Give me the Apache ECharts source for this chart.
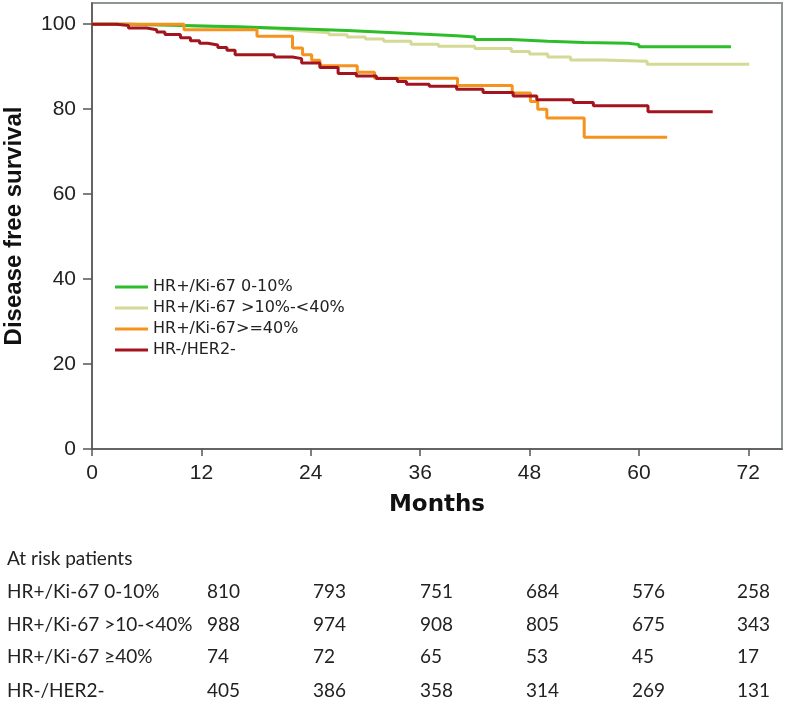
<!DOCTYPE html>
<html>
<head>
<meta charset="utf-8">
<script src="https://cdn.jsdelivr.net/npm/echarts@6/dist/echarts.min.js"></script>
<style>
html,body{margin:0;padding:0;background:#fff;}
#chart{width:786px;height:705px;}
</style>
</head>
<body>
<div id="chart"></div>
<script>
// ---- data ----
const seriesNames = ['HR+/Ki-67 0-10%', 'HR+/Ki-67 >10%-<40%', 'HR+/Ki-67>=40%', 'HR-/HER2-'];
const kmLow = [[0,100],[4,99.8],[8,99.6],[12,99.4],[16,99.1],[20,98.8],[24,98.5],[28,98.1],[32,97.7],[36,97.3],[40,97.0],[42,96.4],[46,96.0],[50,95.7],[54,95.5],[58.8,95.2],[60,94.7],[70.1,94.7]];
const kmMid = [[0,100],[4,99.8],[8,99.6],[12,99.3],[16,99.0],[20,98.6],[22,98.3],[24,98.0],[26,97.5],[28,97.0],[30,96.5],[32,96.0],[35,95.3],[38,94.8],[42,94.3],[46,93.6],[48,93.0],[50,92.3],[52.5,91.6],[56,91.3],[60.9,90.6],[72.1,90.6]];
const kmHigh = [[0,100],[10.1,98.7],[18.1,97.2],[22,94.4],[23.1,92.8],[24.1,91.5],[25,90.2],[29.1,88.7],[31,87.3],[40.1,85.6],[46.1,83.8],[48.1,81.8],[48.9,80.0],[49.9,77.9],[54,73.4],[63.1,73.4]];
const kmNeg = [[0,100],[2.7,99.7],[4,99.1],[6,98.7],[7.1,98.2],[8,97.6],[9.7,96.8],[10.8,96.1],[11.8,95.5],[12.7,95.1],[13.8,94.5],[14.8,93.9],[15.7,92.8],[20,92.3],[22,91.9],[23,90.9],[25,89.8],[27,88.4],[29,87.8],[31.2,87.2],[33.5,86.5],[34.5,85.9],[37,85.4],[40,84.7],[42.9,83.9],[46.2,83.1],[48.8,82.2],[52.8,81.6],[55,80.8],[61,79.4],[68.1,79.4]];
const xTicks = [0,12,24,36,48,60,72];
const yTicks = [0,20,40,60,80,100];
const tableTitle = 'At risk patients';
const tableRowLabels = ['HR+/Ki-67 0-10%', 'HR+/Ki-67 >10-<40%', 'HR+/Ki-67 \u226540%', 'HR-/HER2-'];
const atRiskLow  = [810, 793, 751, 684, 576, 258];
const atRiskMid  = [988, 974, 908, 805, 675, 343];
const atRiskHigh = [74, 72, 65, 53, 45, 17];
const atRiskNeg  = [405, 386, 358, 314, 269, 131];

// ---- styles / layout ----
const colors = ['#2dbd2a', '#d4da95', '#f5931f', '#a3141f'];
const tableRows = [atRiskLow, atRiskMid, atRiskHigh, atRiskNeg];
const colX = [207, 313, 420, 526, 632, 737];
const rowY = [593, 626, 658, 692];
const tableFont = '19px Lato, "Liberation Sans", sans-serif';

const graphics = [];
graphics.push({type:'text', left:7, top:560-11, style:{text:tableTitle, font:tableFont, fill:'#222'}});
tableRows.forEach((row, r) => {
  graphics.push({type:'text', left:7, top:rowY[r]-11, style:{text:tableRowLabels[r], font:tableFont, fill:'#222'}});
  row.forEach((v, c) => {
    graphics.push({type:'text', left:colX[c], top:rowY[r]-11, style:{text:String(v), font:tableFont, fill:'#222'}});
  });
});

const mk = (name, data, color, z) => ({
  name, type:'line', data, step:'end', symbol:'none', z,
  lineStyle:{color, width:3}, itemStyle:{color}
});

const chart = echarts.init(document.getElementById('chart'));
chart.setOption({
  animation:false,
  backgroundColor:'#fff',
  grid:{left:92, top:3, right:4, bottom:256, show:true, borderColor:'#8f9595', borderWidth:2,
        containLabel:false, outerBoundsMode:'none'},
  legend:{
    data:seriesNames, orient:'vertical', left:110, top:274, itemGap:5,
    icon:'rect', itemWidth:33, itemHeight:3,
    textStyle:{fontFamily:'DejaVu Sans', fontSize:16, color:'#222'}
  },
  xAxis:{
    type:'value', min:0, max:75.7,
    name:'Months', nameLocation:'middle', nameGap:45,
    nameTextStyle:{fontFamily:'DejaVu Sans', fontWeight:'bold', fontSize:23, color:'#111'},
    axisLine:{show:true, lineStyle:{color:'#555', width:1.5}},
    axisTick:{show:true, length:7, lineStyle:{color:'#555', width:1.5}, customValues:xTicks},
    axisLabel:{customValues:xTicks, fontFamily:'Liberation Sans', fontSize:21, color:'#222', margin:14},
    splitLine:{show:false}
  },
  yAxis:{
    type:'value', min:0, max:105,
    name:'Disease free survival', nameLocation:'middle', nameGap:66,
    nameTextStyle:{fontFamily:'Liberation Sans', fontWeight:'bold', fontSize:24, color:'#111'},
    axisLine:{show:true, lineStyle:{color:'#555', width:1.5}},
    axisTick:{show:true, length:9, lineStyle:{color:'#555', width:1.5}, customValues:yTicks},
    axisLabel:{customValues:yTicks, fontFamily:'Liberation Sans', fontSize:21, color:'#222', margin:16},
    splitLine:{show:false}
  },
  series:[
    mk(seriesNames[1], kmMid, colors[1], 2),
    mk(seriesNames[0], kmLow, colors[0], 3),
    mk(seriesNames[2], kmHigh, colors[2], 4),
    mk(seriesNames[3], kmNeg, colors[3], 5)
  ],
  graphic:graphics
});
</script>
</body>
</html>
